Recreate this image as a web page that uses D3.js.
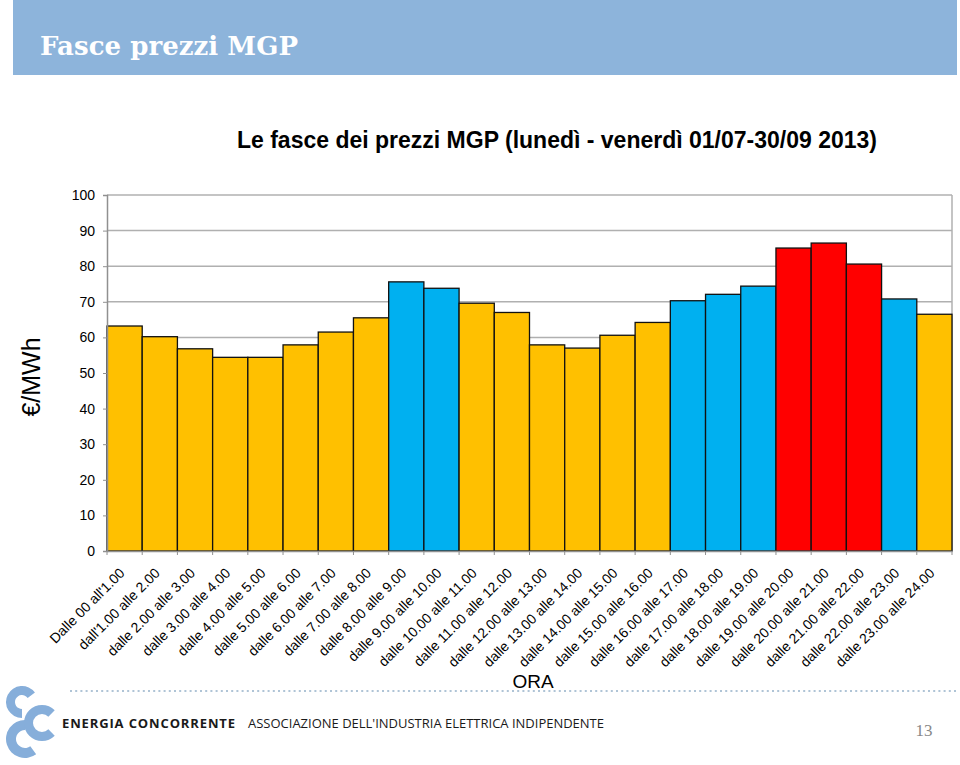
<!DOCTYPE html>
<html><head><meta charset="utf-8">
<script src="https://cdn.jsdelivr.net/npm/d3@7"></script>
<style>body{margin:0;background:#fff}svg{display:block}</style>
</head><body>
<svg id="c" width="960" height="765"></svg>
<script>
const categories = ["Dalle 00 all'1.00","dall'1.00 alle 2.00","dalle 2.00 alle 3.00","dalle 3.00 alle 4.00","dalle 4.00 alle 5.00","dalle 5.00 alle 6.00","dalle 6.00 alle 7.00","dalle 7.00 alle 8.00","dalle 8.00 alle 9.00","dalle 9.00 alle 10.00","dalle 10.00 alle 11.00","dalle 11.00 alle 12.00","dalle 12.00 alle 13.00","dalle 13.00 alle 14.00","dalle 14.00 alle 15.00","dalle 15.00 alle 16.00","dalle 16.00 alle 17.00","dalle 17.00 alle 18.00","dalle 18.00 alle 19.00","dalle 19.00 alle 20.00","dalle 20.00 alle 21.00","dalle 21.00 alle 22.00","dalle 22.00 alle 23.00","dalle 23.00 alle 24.00"];
const prices = [63.2,60.2,56.8,54.4,54.4,57.9,61.5,65.5,75.6,73.8,69.6,67.0,57.9,57.0,60.6,64.2,70.3,72.1,74.4,85.1,86.5,80.6,70.8,66.5];
const bands = ["F3","F3","F3","F3","F3","F3","F3","F3","F2","F2","F3","F3","F3","F3","F3","F3","F2","F2","F2","F1","F1","F1","F2","F3"];
const bandColors = {F1:"#FF0000",F2:"#00B0F0",F3:"#FFC000"};
const yTicks = [0,10,20,30,40,50,60,70,80,90,100];

const svg = d3.select("#c");
const sans = "'Liberation Sans',Arial,sans-serif";
// header band
svg.append("rect").attr("x",13).attr("y",0).attr("width",944).attr("height",75).attr("fill","#8DB4DB");
svg.append("text").attr("x",40).attr("y",55).attr("fill","#fff")
  .attr("font-family","'DejaVu Serif','Liberation Serif',serif").attr("font-weight","bold").attr("font-size",26)
  .attr("textLength",258).text("Fasce prezzi MGP");

svg.append("text").attr("x",557).attr("y",148).attr("text-anchor","middle")
  .style("font-family",sans).style("font-weight","bold").style("font-size","23px")
  .text("Le fasce dei prezzi MGP (lunedì - venerdì 01/07-30/09 2013)");

const L=107,R=952,T=195,B=551;
const x = d3.scaleBand().domain(categories).range([L,R]).padding(0);
const y = d3.scaleLinear().domain([0,100]).range([B,T]);

// gridlines
svg.append("g").selectAll("line").data(yTicks.filter(d=>d>0)).join("line")
  .attr("x1",L).attr("x2",R).attr("y1",d=>y(d)).attr("y2",d=>y(d))
  .attr("stroke","#B0B0B0").attr("stroke-width",1.5);
svg.append("line").attr("x1",R).attr("x2",R).attr("y1",T).attr("y2",B).attr("stroke","#B0B0B0").attr("stroke-width",1.5);

// bars
svg.append("g").selectAll("rect").data(prices).join("rect")
  .attr("x",(d,i)=>x(categories[i])).attr("width",x.bandwidth())
  .attr("y",d=>y(d)).attr("height",d=>B-y(d))
  .attr("fill",(d,i)=>bandColors[bands[i]]).attr("stroke","#111").attr("stroke-width",1.3);

// y axis
const ya = svg.append("g").attr("transform",`translate(${L},0)`)
  .call(d3.axisLeft(y).tickValues(yTicks).tickSize(4).tickPadding(8));
ya.select(".domain").attr("stroke","#909090").attr("stroke-width",1.5);
ya.selectAll(".tick line").attr("stroke","#909090");
ya.selectAll("text").style("font-family",sans).style("font-size","14px").attr("fill","#000");

// x axis
const xa = svg.append("g").attr("transform",`translate(0,${B})`)
  .call(d3.axisBottom(x).tickSize(0).tickPadding(0));
xa.select(".domain").attr("stroke","#909090").attr("stroke-width",1.5);
xa.selectAll(".tick text").style("font-family",sans).style("font-size","14px").attr("fill","#000")
  .attr("text-anchor","end").attr("dy",0).attr("y",0)
  .attr("transform","translate(1,23) rotate(-45)");
// boundary ticks
svg.append("g").selectAll("line").data(d3.range(categories.length+1)).join("line")
  .attr("x1",i=>L+i*x.step()).attr("x2",i=>L+i*x.step()).attr("y1",B).attr("y2",B+4)
  .attr("stroke","#909090");

// axis titles
svg.append("text").attr("transform","translate(40,377) rotate(-90)").attr("text-anchor","middle")
  .style("font-family",sans).style("font-size","25px").text("€/MWh");
svg.append("text").attr("x",533).attr("y",688).attr("text-anchor","middle")
  .style("font-family",sans).style("font-size","19px").text("ORA");

// footer dotted line
svg.append("line").attr("x1",70).attr("x2",957).attr("y1",691).attr("y2",691)
  .attr("stroke","#AFC4D6").attr("stroke-width",2.2).attr("stroke-dasharray","2,3.2");
// logo
const logoColor = "#86AEDA";
const arcC = (r,w,a0,a1)=>d3.arc()({innerRadius:r-w,outerRadius:r,startAngle:a0*Math.PI,endAngle:a1*Math.PI});
svg.append("path").attr("d",arcC(16,9,1.0,2.3)).attr("transform","translate(22,702)").attr("fill",logoColor);
svg.append("path").attr("d",arcC(19,10,0.8,2.0)).attr("transform","translate(25,739)").attr("fill",logoColor);
svg.append("path").attr("d",arcC(18,9,0.75,2.25)).attr("transform","translate(42,723)").attr("fill",logoColor);
svg.append("text").attr("x",62).attr("y",728).style("font-family","'Open Sans','DejaVu Sans',sans-serif").style("font-weight","bold").style("font-size","13px").attr("fill","#1a1a1a").attr("textLength",173).text("ENERGIA CONCORRENTE");
svg.append("text").attr("x",248).attr("y",728).style("font-family","'Open Sans','DejaVu Sans',sans-serif").style("font-size","13px").attr("fill","#1a1a1a").attr("textLength",356).text("ASSOCIAZIONE DELL'INDUSTRIA ELETTRICA INDIPENDENTE");
svg.append("text").attr("x",924).attr("y",736).attr("text-anchor","middle").style("font-family","'Liberation Serif','DejaVu Serif',serif").style("font-size","17px").attr("fill","#888").text("13");
</script>
</body></html>
